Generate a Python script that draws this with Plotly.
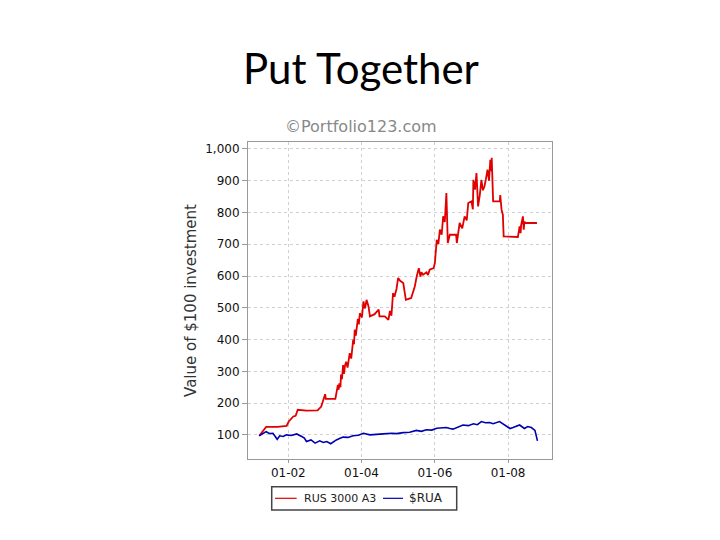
import plotly.graph_objects as go

# RUS 3000 A3 portfolio (value of $100 investment)
red_dates = [
    '2001-03-17', '2001-04-10', '2001-05-01', '2001-05-25', '2001-09-15', '2001-12-15',
    '2002-01-05', '2002-02-20', '2002-03-15', '2002-04-05', '2002-07-01', '2002-10-20',
    '2002-11-25', '2003-01-03', '2003-01-10', '2003-04-15', '2003-05-10', '2003-05-18',
    '2003-05-25', '2003-06-05', '2003-06-10', '2003-06-20', '2003-07-01', '2003-07-10',
    '2003-07-20', '2003-08-01', '2003-08-15', '2003-09-05', '2003-09-20', '2003-10-01',
    '2003-10-10', '2003-10-18', '2003-10-25', '2003-11-05', '2003-11-15', '2003-11-25',
    '2003-12-05', '2003-12-15', '2004-01-05', '2004-01-20', '2004-02-05', '2004-02-20',
    '2004-03-10', '2004-03-25', '2004-05-10', '2004-06-20', '2004-06-28', '2004-08-20',
    '2004-09-25', '2004-10-10', '2004-10-25', '2004-11-10', '2004-11-25', '2004-12-15',
    '2004-12-31', '2005-01-20', '2005-02-20', '2005-03-18', '2005-05-10', '2005-06-15',
    '2005-07-05', '2005-07-25', '2005-08-10', '2005-08-20', '2005-09-05', '2005-10-10',
    '2005-10-25', '2005-11-10', '2005-12-20', '2006-01-01', '2006-01-20', '2006-02-05',
    '2006-02-20', '2006-03-10', '2006-03-25', '2006-04-10', '2006-04-26', '2006-05-10',
    '2006-05-30', '2006-08-01', '2006-08-08', '2006-09-05', '2006-10-01', '2006-10-25',
    '2006-11-15', '2006-11-30', '2007-01-01', '2007-01-15', '2007-01-20', '2007-02-05',
    '2007-02-20', '2007-03-08', '2007-03-25', '2007-04-10', '2007-04-25', '2007-05-10',
    '2007-05-25', '2007-06-10', '2007-06-25', '2007-07-08', '2007-07-15', '2007-07-22',
    '2007-08-05', '2007-10-10', '2007-10-15', '2007-10-28', '2007-11-10', '2007-11-18',
    '2008-04-08', '2008-04-25', '2008-05-05', '2008-05-10', '2008-05-28', '2008-06-05',
    '2008-06-12', '2008-07-01', '2008-10-15',
]
red_values = [
    97, 108, 115, 125, 125, 128,
    142, 158, 160, 179, 176, 177,
    189, 228, 213, 213, 257, 242,
    262, 250, 290, 275, 320, 292,
    318, 330, 312, 357, 340, 375,
    400, 385, 431, 412, 450, 465,
    448, 483, 470, 520, 498, 525,
    505, 473, 480, 494, 473, 473,
    462, 490, 475, 546, 535, 560,
    594, 585, 578, 525, 531, 567,
    600, 625, 598, 612, 604, 612,
    603, 620, 625, 641, 714, 700,
    746, 730, 788, 770, 861, 704,
    730, 730, 704, 767, 750, 788,
    775, 830, 835, 810, 903, 872,
    924, 819, 855, 903, 870, 882,
    905, 935, 900, 966, 930, 972,
    835, 835, 855, 809, 793, 725,
    723, 756, 735, 760, 788, 746,
    770, 767, 767,
]

# $RUA benchmark
blue_dates = [
    '2001-03-17', '2001-05-25', '2001-07-01', '2001-08-01', '2001-09-12', '2001-10-08',
    '2001-11-10', '2001-12-15', '2002-02-01', '2002-03-25', '2002-05-15', '2002-06-10',
    '2002-07-01', '2002-08-15', '2002-09-25', '2002-11-10', '2002-12-15', '2003-01-20',
    '2003-02-28', '2003-04-25', '2003-06-01', '2003-07-01', '2003-08-20', '2003-10-08',
    '2003-12-01', '2004-01-20', '2004-03-25', '2004-05-15', '2004-08-05', '2004-10-28',
    '2004-12-15', '2005-02-20', '2005-04-25', '2005-07-01', '2005-08-20', '2005-10-08',
    '2005-12-01', '2006-01-20', '2006-04-25', '2006-06-01', '2006-07-01', '2006-10-08',
    '2006-12-01', '2007-01-20', '2007-03-01', '2007-04-10', '2007-05-20', '2007-07-01',
    '2007-08-05', '2007-10-08', '2007-11-10', '2007-12-15', '2008-01-20', '2008-02-20',
    '2008-04-25', '2008-06-12', '2008-07-15', '2008-08-20', '2008-09-25', '2008-10-20',
]
blue_values = [
    97, 110, 104, 105, 86, 97,
    95, 100, 98, 103, 95, 90,
    79, 84, 74, 81, 76, 79,
    72, 84, 89, 93, 92, 97,
    99, 105, 100, 102, 103, 105,
    104, 107, 108, 114, 111, 116,
    115, 121, 123, 120, 118, 131,
    129, 135, 132, 142, 138, 139,
    135, 142, 135, 128, 120, 123,
    131, 120, 126, 123, 114, 81,
]

y_ticks = [100, 200, 300, 400, 500, 600, 700, 800, 900, 1000]
x_ticks = ['2002-01-01', '2004-01-01', '2006-01-01', '2008-01-01']

fig = go.Figure()

fig.add_trace(go.Scatter(
    x=red_dates, y=red_values, mode='lines', name='RUS 3000 A3',
    line=dict(color='#e00000', width=1.8)
))
fig.add_trace(go.Scatter(
    x=blue_dates, y=blue_values, mode='lines', name='$RUA',
    line=dict(color='#0000b0', width=1.6)
))

axis_font = dict(family='DejaVu Sans', size=12, color='#111111')

fig.update_layout(
    width=720, height=540,
    paper_bgcolor='white', plot_bgcolor='white',
    margin=dict(l=240, r=176, t=134, b=89),
    font=dict(family='DejaVu Sans', color='#333333'),
    showlegend=False,
    xaxis=dict(
        type='date', range=['2000-11-25', '2009-03-14'],
        tickvals=x_ticks, tickformat='%m-%y', tickfont=axis_font,
        showgrid=True, gridcolor='#d0d0d0', griddash='dot', gridwidth=1,
        showline=True, linecolor='#999999', mirror=True,
        ticks='outside', ticklen=3, tickcolor='#999999', zeroline=False
    ),
    yaxis=dict(
        range=[24, 1022], tickvals=y_ticks, tickformat=',', ticksuffix='\u00a0',
        tickfont=axis_font,
        showgrid=True, gridcolor='#d0d0d0', griddash='dot', gridwidth=1,
        showline=True, linecolor='#999999', mirror=True,
        ticks='outside', ticklen=5, tickcolor='#999999', zeroline=False,
        title=dict(text='Value of $100 investment', standoff=4,
                   font=dict(family='DejaVu Sans', size=15, color='#333333'))
    ),
)

# slide title and watermark
fig.add_annotation(
    text='Put Together', xref='paper', yref='paper', x=0.373, y=1.0,
    xanchor='center', yanchor='middle', yshift=74, showarrow=False,
    font=dict(family='Lato', size=42, color='black')
)
fig.add_annotation(
    text='©Portfolio123.com', xref='paper', yref='paper', x=0.373, y=1.0,
    xanchor='center', yanchor='middle', yshift=16, showarrow=False,
    font=dict(family='DejaVu Sans', size=16, color='#888888')
)

# legend box drawn below the plot
fig.add_shape(type='rect', xref='paper', yref='paper',
              x0=0.078, x1=0.6865, y0=-0.161, y1=-0.0874,
              line=dict(color='#444444', width=1.5), fillcolor='white')
fig.add_shape(type='line', xref='paper', yref='paper',
              x0=0.089, x1=0.160, y0=-0.124, y1=-0.124,
              line=dict(color='#e00000', width=1.2))
fig.add_shape(type='line', xref='paper', yref='paper',
              x0=0.444, x1=0.510, y0=-0.124, y1=-0.124,
              line=dict(color='#0000b0', width=1.2))
fig.add_annotation(
    text='RUS 3000 A3', xref='paper', yref='paper', x=0.1766, y=-0.124,
    xanchor='left', yanchor='middle', showarrow=False,
    font=dict(family='DejaVu Sans', size=11, color='#222222')
)
fig.add_annotation(
    text='$RUA', xref='paper', yref='paper', x=0.522, y=-0.124,
    xanchor='left', yanchor='middle', showarrow=False,
    font=dict(family='DejaVu Sans', size=12, color='#222222')
)

fig.write_html('out.html')
